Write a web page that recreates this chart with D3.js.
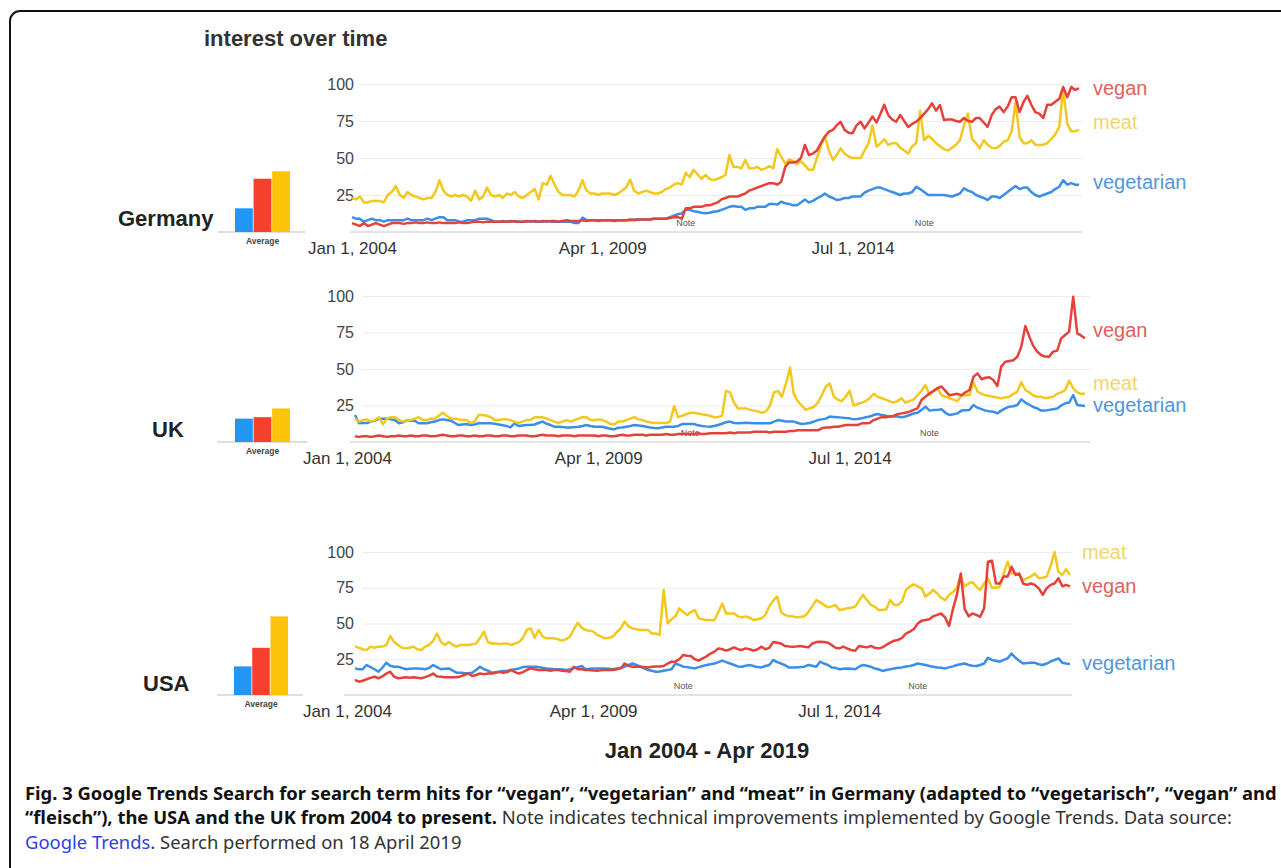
<!DOCTYPE html>
<html>
<head>
<meta charset="utf-8">
<script src="https://cdn.jsdelivr.net/npm/d3@7"></script>
<style>
  html, body { margin: 0; padding: 0; background: #fff; }
  svg { display: block; }
</style>
</head>
<body>
<svg id="chart" width="1281" height="868"></svg>
<script>
(function() {
    'use strict';

    // ---- data (monthly Jan 2004 - Apr 2019) ----
    const months = d3.timeMonth.range(new Date(2004, 0, 1), new Date(2019, 4, 1));
    const tickDates = [new Date(2004, 0, 1), new Date(2009, 3, 1), new Date(2014, 6, 1)];
    const noteDates = [new Date(2011, 0, 1), new Date(2016, 0, 1)];
    const yTicks = [25, 50, 75, 100];
    const seriesKeys = ['vegetarian', 'vegan', 'meat'];

    const deVegetarian = [
        10,9,9,7,8,9,8,8,7,8,8,8,
        8,8,9,8,8,8,8,9,8,9,10,10,
        8,8,8,7,7,8,8,8,9,9,9,8,
        7,7,7.5,7,7,7.5,7,7,7,7.5,7,7,
        7,7.5,7,7,7,7,7,7,6,6,9.7,8,
        8,8,8,8,8,8,8,8,8,8,8,8.5,
        8.5,8.5,8.5,8.5,9,9,9,9,10,11,12,12.6,
        15,15,14,13.7,13,12.6,13,13.7,14,15,16,17,
        17.5,17,17,15,16,16,17,17,17,19,19,18.5,
        20.5,19.4,19,18,18,20,22,20,21,22.7,24,26,
        24,23,21.6,22,23,23,24,24,24,26.6,28,29,
        30,30,29,28,27,26,25,26,26,27,30.6,29,
        27,25,25,25,25,25,24.5,24,25,26,29.5,28,
        27,25,24,23,21.6,24,24,23,25,27,29,31,
        29,30,30,27,25,24,25,26,27,29,30.6,35,
        32,33,32,32
    ];
    const deVegan = [
        6,5,4,6,4,5,6,5,4,5,6,6,
        6,5.5,6,6,6.5,6,6,6.5,6,6,6.5,6,
        6,6,6,6.5,6,6,6.5,7,7,6.5,7,7,
        7,7,7,7,7.5,7,7,7,7.5,7,7.5,7,
        7.5,7,7.5,7.5,7,7.5,8,7.5,7.5,7.5,8,7.5,
        8,8,7.5,8,8,8,7.5,8,8,8,8.5,8,
        8.5,8.5,8.5,8.5,9,9,9,9,9.5,10,10,9,
        16,16,17,17,17,18,18,19,20,22,23,24,
        24,24,25,26,28,29,30,31,32,33,33,32,
        34,44,47,47,47.5,50,58.8,52,53,55,60,64.4,
        67.8,69,72,74.5,69,67,66.7,72,74.5,70,74,78,
        74,80,86,79,76,74.5,79,75,71,73,74.5,77,
        80,83,87,82,85.8,75.7,76,76,75,74.5,77,75,
        74.5,77,77,74,71,79,83,84.7,81,84.7,91,91,
        81,88,92,86,81,80,77,86,86,88,90,98,
        91,98,96,97
    ];
    const deMeat = [
        23,22,24,20,20,21,21,21,20,25,27,31,
        25,23,27,25,24,23,22,23,23,27,35,28,
        25,24,25,24,25,24,21,28,22,24,30,25,
        24,25,23,26,25,27,24,23,25,27,29,22,
        33,32,38,32,27,25,25,25,24,28,35,28,
        26,26,25,26,26,26,25,26,28,30,35.5,28,
        26,27,28,27,26,26,27,29,30,32,33,32,
        40,37,42,39,36,38.5,36,35,36,37,38.5,52,
        44,44,43,48.6,43,43,44,42,43,44.5,43,56,
        51,46,49,48,46,48,45,42,42,50,58,65,
        55,48.6,52,56.5,53,51,50,50,50,55,60,72,
        57.7,60,62.6,58.8,60,60,57,55,53,58,60,82,
        62,65,63,60,58,56,55,57,59,62,72,80,
        63,60,56.5,62,59,57,56.5,58,61,62,68,88,
        64,60,60,62,59,58.8,59,60,63,66,71,97,
        73,68,68,69
    ];

    const ukVegetarian = [
        18.5,12.8,13,13,14,14.6,16,16,16,15.5,15,12.8,
        13.5,15,14.6,14.6,12.8,12.8,12.8,13.5,14,15,15.5,15,
        14.6,13,11.6,12,12.3,11.6,12,12.8,12.8,12.8,12.8,12.5,
        12,11.5,11,10,12.8,11,11.3,11.6,11.6,12,13,14,
        12.5,11.6,10.5,10.5,10.2,10,10,10.2,10.5,11,11.6,11,
        10.5,10.5,10.5,9.8,9,8.7,9.8,10,10.5,11,11.6,11.3,
        11,10.5,10,9.6,9.4,10,10.5,10.5,10.5,11,12.3,12.3,
        12.3,12.3,11.4,11,10.7,10.5,11,11.6,12.5,13.5,14,13,
        12.8,13,13.2,13,12.8,12.8,12.8,12.8,12.8,14,15,14.5,
        14,14,14,13,12.3,12.6,13,14,15,15.5,16,17.4,
        17.2,17,16.7,16.4,16.2,15.5,15.8,16.2,17,17.4,18.5,19.2,
        18.5,18,17.4,17.4,17.4,17,17.5,18.5,19.5,20,22,24.2,
        21.5,22,22,22.4,20,18.5,19,19.6,21.5,21.8,22,25.3,
        23.5,22.5,21.5,21,20.8,19.6,21.5,23,24.2,24.5,25.3,29.2,
        27,25.5,24,23,21.5,21.5,22,22.5,23,25,26.5,27,
        32.2,25.3,25,24.7
    ];
    const ukVegan = [
        4,3.5,4,4,3.5,4,4.5,4,3.5,4,4,4.5,
        4,4,4.5,4,4,4.5,4.5,4,4,4.5,5,4.5,
        4,4,4.5,4.5,4,4,4.5,4,4,4.5,4.5,4,
        4,4.5,4.5,4,4,4.5,4.5,4.5,4,4,4.5,5,
        4.5,4.5,4.5,4,4.5,4.5,4.5,4,4.5,4.5,4.5,4.5,
        4.5,4,4.5,4.5,4,4,4.5,5,4.5,4.5,5,5,
        5,4.5,5,5,5,5,5.5,5,5,5.5,5.5,5.5,
        5.5,5.5,6,5.5,5.5,6,6,6,6,6,6.5,6,
        6.5,6.5,6.5,6.5,7,7,7,7,6.5,7,7,7,
        7,7.5,7.5,8,8,8,8,8,8,9.4,10,10,
        10.5,10.5,11,11.6,11.6,11.6,11.6,12.8,12.8,13,15,16,
        17,17,17.5,17.8,19,19.6,20,20.8,22,23,28.8,31,
        33.3,35,36.8,38,35,32,32.5,33,32,34,35.6,44.7,
        47,43,44,44.3,42.5,38.4,51.6,55,55.5,56,58.4,65.3,
        79.5,72,66,62,59.6,58.5,58.4,61.9,62.6,71,73.3,75.6,
        99.5,74.4,73,71
    ];
    const ukMeat = [
        16,14,15,15.5,14,15,17,12,16,17,17,15,
        14,15,15,16,17,15,15,16,16,18,20,18,
        16,16,15.5,15,15,13,14,18.5,18.5,18,17,15,
        15,15.5,15.5,15,14,13,14,15,15,17,17,17,
        16,15,14,13,14,15,14,15,16,17,17,15,
        15,15.5,15,14,12.5,12,14,14,15,16,17,15.5,
        15,14,13.5,13,13,13,13,14,24.6,17,18,19,
        20,20,19.6,19,18.5,18,17,17,18,35,34,27,
        23,23,23,22,21.5,21,20,21,25,34,35,31,
        40,51,33,28,25,22,23,24,27,32,38,40,
        31,29,28,31,35,25,26,27,28,30,33,31,
        30,29,28,27,28,30,27,28,29,32,35,39,
        32,35,37,32,31,30,29,28,32,32,32,41,
        34.5,33,32,31.5,31,30.5,30,30.5,31,33,34.5,41,
        35.6,34,32,31,31,30,30.5,31,33,34,35.6,42,
        36.8,34,33,33
    ];

    const usVegetarian = [
        18.6,18,18,21,19.5,18,16.3,19,22.6,20.5,19.8,19.8,
        19,18,18.3,18.6,18.6,18.3,18,19,21,19.5,18,18.3,
        18.6,17,15.6,15.5,15.3,15.2,15.6,17.5,19.8,18,17,15.6,
        16,16.3,16.8,17,17.5,18,18.5,19.5,19.8,19.8,19.8,19.5,
        19,18.6,18.3,18,18,17.8,17.5,18,18.6,19.5,20.3,18,
        18.3,18.6,18.6,18.6,18.6,18.3,18,18.5,19,19.8,21,22,
        21,19.8,18.6,17.5,17,16.3,16.5,17,17.5,18,22,21,
        19.8,19.5,19,18.6,19.5,20.3,21,21.5,22,23,24,23,
        22,21,20,19.8,20.5,21,20.3,19.5,19.3,20.3,21,24.5,
        23,22,21,19.3,19.3,19.3,19.5,19.8,21,20.5,19.8,23.3,
        22,21,19.3,19,18,18.3,18.6,18.3,18,19.8,21,20.5,
        19.8,18.5,18,16.8,17.5,18,18.6,19,19.3,20,20.3,21,
        22,21.5,21,20.3,19.8,19.3,19,18.6,19.3,20,21,21.5,
        22,21,20.5,20.3,21,22,26,24.5,24,23.3,24.5,25.6,
        29,26,24,22,22.3,22.5,22.5,21.5,21,22,23.3,24.5,
        25.6,22.5,22,21.7
    ];
    const usVegan = [
        10.5,9.3,10,11,12,12.8,11.7,13,15,16.3,12.8,11.7,
        12,12.4,12,12.4,12,11.7,12.5,13.5,15,13,12.8,12.4,
        12.4,12.4,12.4,13,14,15,13.3,14,15,14.5,15,15,
        15.5,16.3,15.6,16,17.5,16,15,16,17.5,18.6,18,17.5,
        17.5,17.5,17,17.5,17.5,17,16.8,16.3,19.8,18,18,17.5,
        17.5,17.2,17,17.3,17.5,17.5,17.5,18,18.6,22,20.5,19.8,
        19.8,19.8,19.5,19.3,19.8,20,20,20.3,22,23.3,23.3,25,
        28,27.5,27.3,25,24,25.6,27,29,30.3,32.6,32,31,
        32,33.3,32,31.5,32.6,32,31,32,33.8,32,33,37,
        36.6,36,34.3,34,33.8,34,34.3,33.8,33.3,36,37,37.3,
        37,36.6,35,33,32.6,33.8,32.5,31.5,31,34.3,33.8,33.3,
        34.3,33,32.6,33.3,35,36.6,38,38.5,40,43,44.3,46,
        50,52,52.4,52.9,55,56,57,54.3,48.3,60,70,85,
        60,55,57,56,54.7,60.6,93.2,94,78,78,82.8,82.8,
        89.7,84,85,78,77,78,77,74.6,70,74.6,77,78,
        81.6,76,77,76
    ];
    const usMeat = [
        34,33,32,31.5,33.8,33,33.8,34,35,41.3,37,35,
        33,32.6,33,33.8,32,31.5,33.8,35,38,43,37,35,
        37,35,33.8,35,35,35,35.5,36,40,44.3,37,36,
        36,35.5,36,36,35,36,37,40,45.5,46.6,40,45.5,
        41,39.6,39.6,39.6,39,38,39,40.8,46,50.6,47,45.5,
        45,44.3,42,40.8,39.6,40,40.8,44,46.6,51.3,48,46.6,
        46,45.5,45.5,45.5,43,43,42,73.4,50,53,55,60.6,
        58,56,58,59.4,53.6,53,52.4,52.4,52.4,58,64,57,
        57,57,55,54.3,55,54,52.4,53,53.6,56,62,66,
        68.8,58,56,55,55,54.3,54.5,55,58,62,66.4,65,
        63,61.3,62,63,59.4,60,60.6,61,61.8,66,70,66.4,
        63,61.8,59.4,59.4,60,66.4,63,63,65.5,73.4,76,77.4,
        76,74.6,68.8,71,73.4,71,68,66.4,70,72,75,82.8,
        75.8,78,79,76,73.4,78,81.6,75,75,75.8,85,93.2,
        85,85,84,80.4,81.6,83,85,81.6,82,82.8,90,100,
        86,84,88,84
    ];

    // averages in seriesKeys order: vegetarian, vegan, meat
    const deAverage = [16, 36, 41];
    const ukAverage = [16, 17, 23];
    const usAverage = [20, 33, 55];

    // ---- styling ----
    const lineColor = { vegetarian: '#3b8ee6', vegan: '#e5413a', meat: '#f2c81e' };
    const barColor = { vegetarian: '#2196f3', vegan: '#f4402c', meat: '#fdc30a' };
    const labelColor = { vegetarian: '#4f97dc', vegan: '#e2605a', meat: '#f2d56c' };
    const drawOrder = ['vegetarian', 'meat', 'vegan'];
    const sans = '"Liberation Sans", Arial, Helvetica, sans-serif';

    const panels = [
        { name: 'Germany', series: { vegetarian: deVegetarian, vegan: deVegan, meat: deMeat }, avg: deAverage,
          x0: 352, x1: 1079, yBase: 232, yTop: 84, gridX0: 360, gridX1: 1082, baseX0: 350,
          labelX: 1093, nudge: { vegan: 0, meat: -8, vegetarian: -3 }, tickDx: 0,
          nameX: 118, nameY: 226, barL: 235, barR: 290, barAxis: [218, 305] },
        { name: 'UK', series: { vegetarian: ukVegetarian, vegan: ukVegan, meat: ukMeat }, avg: ukAverage,
          x0: 355, x1: 1085, yBase: 442, yTop: 296, gridX0: 362, gridX1: 1090, baseX0: 350,
          labelX: 1093, nudge: { vegan: -8, meat: -11, vegetarian: -1 }, tickDx: -8,
          nameX: 152, nameY: 437, barL: 235, barR: 290, barAxis: [217, 307] },
        { name: 'USA', series: { vegetarian: usVegetarian, vegan: usVegan, meat: usMeat }, avg: usAverage,
          x0: 355, x1: 1070, yBase: 695, yTop: 552, gridX0: 362, gridX1: 1072, baseX0: 344,
          labelX: 1082, nudge: { vegan: 0, meat: -23, vegetarian: -1 }, tickDx: -8,
          nameX: 143, nameY: 691, barL: 234, barR: 288, barAxis: [217, 303] }
    ];

    const svg = d3.select('#chart');

    // outer frame
    svg.append('rect')
        .attr('x', 10).attr('y', 11)
        .attr('width', 1300).attr('height', 900)
        .attr('rx', 10)
        .attr('fill', 'none')
        .attr('stroke', '#111')
        .attr('stroke-width', 2);

    svg.append('text')
        .attr('x', 204).attr('y', 46)
        .text('interest over time')
        .style('font-family', sans).style('font-weight', 'bold')
        .style('font-size', '22px').style('fill', '#333');

    panels.forEach(p => {
        const x = d3.scaleTime()
            .domain([months[0], months[months.length - 1]])
            .range([p.x0, p.x1]);
        const y = d3.scaleLinear().domain([0, 100]).range([p.yBase, p.yTop]);
        const g = svg.append('g');

        // grid lines + y labels
        const yAxis = d3.axisLeft(y)
            .tickValues(yTicks)
            .tickSize(-(p.gridX1 - p.gridX0))
            .tickPadding(p.gridX0 - 354);
        const ya = g.append('g')
            .attr('transform', `translate(${p.gridX0},0)`)
            .call(yAxis);
        ya.select('.domain').remove();
        ya.selectAll('.tick line').attr('stroke', '#ececec').attr('stroke-width', 1);
        ya.selectAll('.tick text')
            .style('font-family', sans).style('font-size', '16px')
            .attr('fill', '#444');

        // baseline
        g.append('line')
            .attr('x1', p.baseX0).attr('x2', p.gridX1)
            .attr('y1', y(0)).attr('y2', y(0))
            .attr('stroke', '#c9c9c9').attr('stroke-width', 1);

        // x labels
        const xAxis = d3.axisBottom(x)
            .tickValues(tickDates)
            .tickFormat(d3.timeFormat('%b %-d, %Y'))
            .tickSize(0)
            .tickPadding(10);
        const xa = g.append('g')
            .attr('transform', `translate(0,${p.yBase})`)
            .call(xAxis);
        xa.select('.domain').remove();
        xa.selectAll('.tick text')
            .attr('dx', p.tickDx)
            .style('font-family', sans).style('font-size', '17px')
            .attr('fill', '#333');

        // "Note" markers
        g.selectAll('.note')
            .data(noteDates)
            .enter()
            .append('text')
            .attr('x', d => x(d))
            .attr('y', p.yBase - 9)
            .attr('dy', '0.35em')
            .attr('text-anchor', 'middle')
            .text('Note')
            .style('font-family', sans).style('font-size', '9px')
            .style('fill', '#555');

        // lines
        const line = d3.line()
            .x((d, i) => x(months[i]))
            .y(d => y(d));
        drawOrder.forEach(key => {
            g.append('path')
                .datum(p.series[key])
                .attr('d', line)
                .attr('fill', 'none')
                .attr('stroke', lineColor[key])
                .attr('stroke-width', 2.5)
                .attr('stroke-linejoin', 'round');
        });

        // end labels
        seriesKeys.forEach(key => {
            const vals = p.series[key];
            g.append('text')
                .attr('x', p.labelX)
                .attr('y', y(vals[vals.length - 1]) + p.nudge[key])
                .attr('dy', '0.35em')
                .text(key)
                .style('font-family', sans).style('font-size', '20px')
                .style('fill', labelColor[key]);
        });

        // average bars
        const bx = d3.scaleBand().domain(seriesKeys).range([p.barL, p.barR]).paddingInner(0.04);
        g.append('line')
            .attr('x1', p.barAxis[0]).attr('x2', p.barAxis[1])
            .attr('y1', y(0)).attr('y2', y(0))
            .attr('stroke', '#bdbdbd').attr('stroke-width', 1);
        g.selectAll('.avg')
            .data(seriesKeys.map((k, i) => ({ key: k, value: p.avg[i] })))
            .enter()
            .append('rect')
            .attr('x', d => bx(d.key))
            .attr('width', bx.bandwidth())
            .attr('y', d => y(d.value))
            .attr('height', d => y(0) - y(d.value))
            .attr('fill', d => barColor[d.key]);
        g.append('text')
            .attr('x', (p.barL + p.barR) / 2)
            .attr('y', p.yBase + 9)
            .attr('dy', '0.35em')
            .attr('text-anchor', 'middle')
            .text('Average')
            .style('font-family', sans).style('font-size', '8.5px')
            .style('font-weight', 'bold')
            .style('fill', '#444');

        // country name
        g.append('text')
            .attr('x', p.nameX).attr('y', p.nameY)
            .text(p.name)
            .style('font-family', sans).style('font-weight', 'bold')
            .style('font-size', '22px').style('fill', '#222');
    });

    svg.append('text')
        .attr('x', 707).attr('y', 758)
        .attr('text-anchor', 'middle')
        .text('Jan 2004 - Apr 2019')
        .style('font-family', sans).style('font-weight', 'bold')
        .style('font-size', '22px').style('fill', '#222');

    // ---- caption ----
    const captionLines = [
        [['Fig. 3 Google Trends Search for search term hits for \u201cvegan\u201d, \u201cvegetarian\u201d and \u201cmeat\u201d in Germany (adapted to \u201cvegetarisch\u201d, \u201cvegan\u201d and', 'bold']],
        [['\u201cfleisch\u201d), the USA and the UK from 2004 to present.', 'bold'],
         [' Note indicates technical improvements implemented by Google Trends. Data source:', 'normal']],
        [['Google Trends', 'link'], ['. Search performed on 18 April 2019', 'normal']]
    ];
    const captionY = [800, 824, 849];
    const segFill = { bold: '#111', normal: '#333', link: '#2f3fe0' };

    const cap = svg.append('g')
        .style('font-family', '"Noto Sans", "Open Sans", sans-serif')
        .style('font-size', '17px');
    const capTexts = captionLines.map((segs, i) => {
        const t = cap.append('text').attr('x', 25).attr('y', captionY[i]);
        segs.forEach(s => {
            t.append('tspan')
                .text(s[0])
                .style('font-weight', s[1] === 'bold' ? 'bold' : 'normal')
                .style('fill', segFill[s[1]]);
        });
        return t;
    });
    // fit the first caption line to the printed width
    const w = capTexts[0].node().getComputedTextLength();
    if (w > 0) cap.style('font-size', (17 * 1253 / w) + 'px');
})();
</script>
</body>
</html>
